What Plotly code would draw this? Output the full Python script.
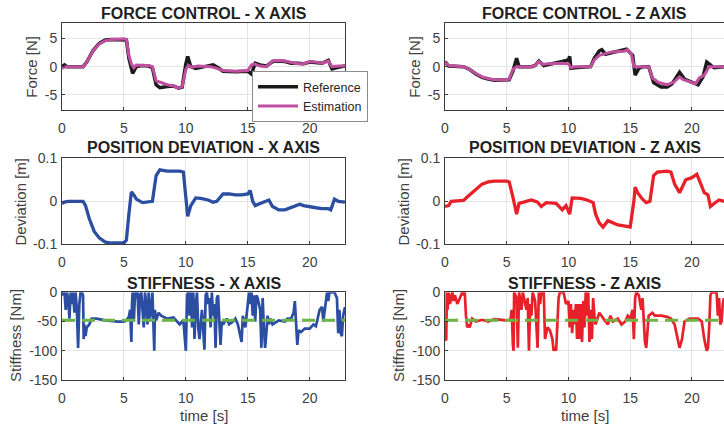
import plotly.graph_objects as go

# ---------------- data ----------------
# Force control, X axis
fx_ref_t = [0, 0.2, 0.4, 1.7, 2.0, 2.5, 3.0, 3.5, 4.0, 5.0, 5.2, 5.4, 5.7, 6.0, 6.5, 7.0, 7.3, 7.6, 7.9,
            8.5, 9.0, 9.4, 9.7, 10.0, 10.15, 10.4, 10.8, 11.5, 12.2, 12.6, 13.0, 14.0, 15.0, 15.3, 15.6,
            16.0, 16.5, 17.0, 17.5, 18.0, 18.5, 19.0, 19.5, 20.0, 20.5, 21.0, 21.5, 21.8, 22.3, 22.85]
fx_ref_v = [0, 0.3, 0, 0, 0.8, 2.8, 4.1, 4.7, 4.8, 4.8, 4.7, 1.5, -1.2, 0.0, 0.2, 0.1, -0.2, -3.2, -3.7,
            -3.5, -3.4, -3.8, -3.6, 0.5, 1.8, 0.0, -0.3, 0.0, 0.3, -0.2, -0.8, -0.9, -0.8, -1.3, 0.6,
            0.3, 0.1, 0.9, 1.0, 0.9, 0.6, 0.6, 0.5, 0.8, 0.7, 0.6, 1.1, -0.4, -0.1, 0.1]
fx_est_t = [0, 0.3, 1.7, 2.0, 2.5, 3.0, 3.5, 4.0, 5.0, 5.2, 5.4, 5.6, 5.8, 6.0, 6.5, 7.0, 7.3, 7.6, 8.0,
            8.5, 9.0, 9.4, 9.7, 10.0, 10.2, 10.5, 11.0, 12.0, 12.5, 13.0, 14.0, 15.0, 15.3, 15.5, 16.0,
            16.5, 17.0, 17.5, 18.0, 18.5, 19.0, 19.5, 20.0, 20.5, 21.0, 21.5, 21.8, 22.3, 22.85]
fx_est_v = [-0.3, 0, 0, 0.8, 2.8, 4.0, 4.6, 4.8, 4.9, 4.8, 2.0, 0.5, -0.2, 0.3, 0.2, 0.2, 0.0, -2.5, -2.8,
            -3.2, -3.4, -3.8, -3.5, -0.5, 0.2, -0.1, 0.1, 0.0, -0.3, -0.7, -0.8, -0.7, 0.3, 0.5, 0.1,
            0.0, 1.0, 1.1, 1.0, 0.7, 0.5, 0.5, 0.9, 0.8, 0.6, 1.0, 0.0, 0.1, 0.1]

# Force control, Z axis
fz_ref_t = [0, 0.3, 1.5, 2.0, 2.5, 3.0, 3.5, 4.0, 5.2, 5.5, 5.8, 6.0, 7.0, 7.3, 7.6, 8.0, 9.5, 10.0,
            10.1, 10.2, 10.5, 11.8, 12.1, 12.5, 12.7, 13.0, 14.7, 15.2, 15.4, 15.7, 16.0, 16.5, 16.9,
            17.5, 18.0, 18.4, 19.0, 19.4, 20.5, 20.9, 21.2, 21.5, 21.8, 22.6]
fz_ref_v = [0.9, 0.1, 0, -0.5, -1.3, -1.9, -2.2, -2.4, -2.3, -0.8, 1.5, 0.0, 0.0, 0.2, 1.0, 0.2, 0.9, 1.2,
            1.8, -0.3, -0.2, 0.0, 1.5, 2.8, 3.0, 2.2, 3.1, 2.0, -1.5, -0.3, 0.0, 0.0, -2.8,
            -3.6, -3.6, -3.0, -1.0, -2.2, -3.2, -1.8, 0.8, 0.3, -0.2, 0.0]
fz_est_t = [0, 0.3, 1.5, 2.0, 2.5, 3.0, 3.5, 4.0, 5.0, 5.2, 5.5, 5.8, 7.0, 7.3, 7.6, 7.9, 8.3, 9.0,
            9.5, 10.0, 10.2, 10.5, 11.8, 12.1, 12.5, 13.0, 13.5, 14.5, 14.8, 15.1, 15.3, 16.5, 16.8,
            17.3, 18.0, 18.5, 19.0, 19.3, 19.8, 20.3, 20.6, 21.0, 21.4, 22.6]
fz_est_v = [0.8, 0.2, 0, -0.5, -1.2, -1.8, -2.1, -2.3, -2.3, -2.2, -0.5, 0.0, 0.0, 0.2, 0.9, 0.4, 0.5, 0.6,
            0.6, 0.5, -0.2, 0.0, 0.0, 1.2, 2.0, 2.3, 2.6, 2.7, 3.0, 2.2, 0.0, 0.0, -2.0,
            -2.8, -3.2, -2.8, -1.8, -2.3, -2.7, -3.0, -2.0, -1.5, 0.0, 0.0]

# Position deviation, X axis
px_t = [0, 0.2, 0.5, 1.7, 1.9, 2.2, 2.6, 3.0, 3.5, 4.0, 5.0, 5.2, 5.4, 5.6, 5.8, 6.0, 6.5, 7.0, 7.3,
        7.6, 7.9, 8.5, 9.5, 9.8, 10.0, 10.15, 10.4, 10.8, 11.2, 11.8, 12.2, 12.5, 13.0, 13.5, 14.0,
        14.5, 15.0, 15.2, 15.4, 15.6, 16.0, 16.5, 16.7, 17.0, 17.5, 18.0, 18.5, 19.0, 19.2, 19.5,
        20.0, 20.5, 21.0, 21.5, 21.7, 22.0, 22.3, 22.85]
px_v = [-0.005, -0.002, 0.0, 0.0, -0.01, -0.04, -0.07, -0.085, -0.095, -0.097, -0.097, -0.09, -0.03,
        0.022, 0.015, 0.005, -0.003, -0.002, 0.0, 0.06, 0.073, 0.07, 0.07, 0.068, 0.01, -0.035, -0.01,
        0.008, 0.007, 0.003, -0.002, 0.0, 0.017, 0.017, 0.015, 0.015, 0.017, 0.025, 0.0, -0.01, -0.005,
        0.0, 0.003, -0.012, -0.02, -0.02, -0.015, -0.01, -0.007, -0.01, -0.013, -0.015, -0.017, -0.017,
        -0.02, 0.005, 0.0, -0.002]

# Position deviation, Z axis
pz_t = [0, 0.3, 0.5, 1.5, 1.8, 2.2, 2.5, 3.0, 3.5, 4.0, 5.0, 5.2, 5.5, 5.8, 6.0, 6.5, 7.0, 7.5, 7.8,
        8.2, 9.0, 9.5, 9.8, 10.1, 10.3, 11.0, 11.5, 12.0, 12.2, 12.5, 12.8, 13.2, 13.6, 14.0, 14.5,
        15.0, 15.3, 15.4, 15.6, 16.0, 16.3, 16.6, 16.9, 17.2, 18.0, 18.3, 18.6, 19.0, 19.5, 20.0,
        20.4, 20.7, 21.0, 21.3, 21.5, 21.8, 22.2, 22.6]
pz_v = [-0.012, -0.01, 0.0, 0.002, 0.01, 0.02, 0.03, 0.04, 0.045, 0.047, 0.047, 0.045, 0.01, -0.03,
        -0.005, 0.0, 0.003, -0.002, -0.012, -0.003, -0.005, -0.02, -0.01, -0.03, 0.008, 0.007, 0.003,
        -0.003, -0.03, -0.05, -0.06, -0.045, -0.05, -0.055, -0.057, -0.06, 0.0, 0.033, 0.02, 0.005,
        -0.003, 0.0, 0.06, 0.068, 0.07, 0.068, 0.04, 0.02, 0.05, 0.055, 0.063, 0.04, 0.02, 0.015,
        -0.012, -0.005, 0.003, 0.0]

# Stiffness, X axis
sx_t = [0.0, 0.1, 0.2, 0.3, 0.4, 0.5, 0.6, 0.7, 0.8, 0.9, 1.0, 1.1, 1.2, 1.3, 1.4, 1.5, 1.6, 1.7,
        1.75, 1.8, 1.9, 2.0, 2.2, 2.4, 2.8, 3.5, 4.5, 5.0, 5.2, 5.4, 5.5, 5.6, 5.65, 5.7, 5.8, 5.9,
        6.0, 6.1, 6.2, 6.3, 6.4, 6.6, 6.7, 6.8, 6.9, 7.0, 7.1, 7.2, 7.3, 7.4, 7.45, 7.5, 7.6, 7.8,
        8.0, 8.5, 9.0, 9.3, 9.5, 9.7, 9.8, 10.0, 10.1, 10.2, 10.3, 10.4, 10.5, 10.6, 10.7, 10.8,
        10.9, 11.0, 11.1, 11.2, 11.3, 11.5, 11.6, 11.7, 11.8, 11.9, 12.0, 12.1, 12.2, 12.3, 12.4,
        12.5, 12.6, 12.8, 12.9, 13.0, 13.3, 13.5, 13.8, 14.0, 14.2, 14.5, 14.6, 14.8, 15.0, 15.1,
        15.2, 15.3, 15.4, 15.5, 15.6, 15.7, 15.8, 16.0, 16.1, 16.2, 16.3, 16.4, 16.5, 16.6, 16.7,
        16.8, 17.0, 17.5, 18.0, 18.2, 18.5, 18.7, 18.8, 18.9, 19.0, 19.1, 19.3, 19.6, 20.0, 20.3,
        20.5, 20.8, 21.0, 21.1, 21.2, 21.3, 21.4, 21.5, 21.6, 22.0, 22.2, 22.3, 22.4, 22.5, 22.6,
        22.7, 22.85]
sx_v = [0, -5, 0, -30, 0, -10, -45, 0, -20, 0, -35, 0, -30, -95, -20, 0, 0, -5,
        -80, -55, -75, -60, -55, -45, -45, -48, -50, -50, -48, -42, -30, -85, -20, 0, -50, 0,
        -10, 0, -55, -5, 0, -60, 0, -20, -55, 0, -45, -30, 0, -60, -100, -30, -48, -35,
        -40, -45, -43, -50, -55, -50, -48, -100, -5, 0, -40, 0, -60, 0, -80, -20,
        0, -60, -80, -55, -30, -98, -5, 0, -20, -10, -60, 0, -40, -20, -95,
        -10, -5, -90, -50, -55, -45, -55, -50, -45, -55, -85, -40, -60, -10, 0,
        -20, 0, -40, -5, -50, -5, -10, -30, -95, -10, -60, -95, -70, -40, -55,
        -45, -55, -48, -50, -45, -45, -35, -15, -45, -90, -65, -68, -62, -62, -55,
        -58, -30, -25, -50, -35, -20, 0, -15, 0, 0, -10, -70, -30, -70, -75,
        -40, -25]

# Stiffness, Z axis
sz_t = [0.0, 0.1, 0.15, 0.2, 0.3, 0.4, 0.5, 0.6, 0.7, 0.8, 1.0, 1.2, 1.4, 1.5, 1.6, 1.7, 1.8, 1.9,
        2.0, 2.2, 2.5, 3.0, 3.5, 4.0, 4.5, 5.0, 5.3, 5.4, 5.5, 5.55, 5.6, 5.8, 5.9, 6.0, 6.2, 6.3,
        6.6, 6.7, 6.8, 6.9, 7.0, 7.1, 7.3, 7.4, 7.5, 7.6, 7.7, 7.8, 8.0, 8.1, 8.3, 8.5, 8.7, 8.8,
        8.9, 9.0, 9.1, 9.2, 9.3, 9.6, 9.8, 10.0, 10.1, 10.2, 10.3, 10.4, 10.5, 10.6, 10.7, 10.8,
        10.9, 11.0, 11.1, 11.2, 11.3, 11.4, 11.5, 11.6, 11.7, 11.8, 11.9, 12.0, 12.1, 12.2, 12.5,
        12.8, 13.0, 13.2, 13.4, 13.6, 14.0, 14.3, 14.6, 14.8, 15.0, 15.2, 15.3, 15.4, 15.5, 15.7,
        15.9, 16.0, 16.1, 16.2, 16.3, 16.4, 16.5, 16.8, 17.0, 17.5, 18.0, 18.3, 18.6, 18.8, 19.0,
        19.2, 19.4, 19.8, 20.2, 20.5, 20.8, 21.0, 21.2, 21.3, 21.4, 21.5, 21.6, 22.0, 22.1, 22.2,
        22.3, 22.4, 22.5, 22.6]
sz_v = [-80, -82, 0, -30, 0, -20, -10, 0, -15, -5, -20, -10, 0, -5, 0, -40, -60, -55,
        -60, -45, -50, -47, -50, -46, -47, -48, -47, -30, -90, -100, 0, -10, -95, 0, -30, 0,
        -30, -10, -100, -20, -40, 0, -15, -60, -95, 0, -20, 0, 0, -80, -60, -65, -80, -100,
        -95, -100, -60, -10, 0, 0, -20, -15, -60, -20, -70, -30, -55, -20, -80, -20,
        -80, -20, -85, -15, -60, 0, -40, 0, -85, -30, -80, -10, -40, -55, -35,
        -45, -50, -55, -40, -50, -45, -55, -50, -40, -45, -30, -80, -10, 0, -5,
        -30, -10, -60, -85, -95, -60, -40, -35, -40, -40, -42, -45, -55, -75, -95,
        -80, -50, -45, -45, -45, -50, -80, -100, -95, -60, -5, 0, 0, -40, -10,
        -55, -50, -20, -10]

stiffness_ref = -48
x_ticks = [0, 5, 10, 15, 20]
force_ticks = [-5, 0, 5]
dev_ticks = [-0.1, 0, 0.1]
stiff_ticks = [-150, -100, -50, 0]

# ---------------- styling ----------------
FONT = "Liberation Sans, Arial, sans-serif"
BLUE = "#2b4ea3"
RED = "#e8202a"
MAGENTA = "#c0509f"
BLACK = "#1b1b1b"
GREEN = "#6cb545"
W, H = 724, 427

fig = go.Figure()

# panel geometry in pixels -> paper fractions
xl = [62 / W, 345 / W]
xr = [445 / W, 1.0]
yt = [1 - 110 / H, 1 - 23.3 / H]
ym = [1 - 244.3 / H, 1 - 158.3 / H]
yb = [1 - 380 / H, 1 - 292.3 / H]

panels = [
    ("x", "y", xl, yt, [0, 22.85], [-7.65, 7.65], force_ticks),
    ("x2", "y2", xr, yt, [0, 22.6], [-7.65, 7.65], force_ticks),
    ("x3", "y3", xl, ym, [0, 22.85], [-0.1, 0.1], dev_ticks),
    ("x4", "y4", xr, ym, [0, 22.6], [-0.1, 0.1], dev_ticks),
    ("x5", "y5", xl, yb, [0, 22.85], [-150, 0], stiff_ticks),
    ("x6", "y6", xr, yb, [0, 22.6], [-150, 0], stiff_ticks),
]

layout_axes = {}
for i, (xa, ya, xd, yd, xrng, yrng, yticks) in enumerate(panels):
    xkey = "xaxis" if xa == "x" else "xaxis" + xa[1:]
    ykey = "yaxis" if ya == "y" else "yaxis" + ya[1:]
    right_col = (i % 2 == 1)
    layout_axes[xkey] = dict(
        domain=xd, anchor=ya, range=xrng, tickvals=x_ticks, automargin=False,
        showgrid=True, gridcolor="#e5e5e5", gridwidth=1, zeroline=False,
        showline=True, linecolor="#3a3a3a", linewidth=1, mirror=True,
        ticks="inside", ticklen=3, tickcolor="#3a3a3a", ticklabelstandoff=5,
        tickfont=dict(family=FONT, size=14, color="#404040"),
    )
    layout_axes[ykey] = dict(
        domain=yd, anchor=xa, range=yrng, tickvals=yticks, automargin=False,
        ticktext=[("%g" % v) for v in yticks],
        showgrid=True, gridcolor="#e5e5e5", gridwidth=1, zeroline=False,
        showline=True, linecolor="#3a3a3a", linewidth=1, mirror=not right_col,
        ticks="inside", ticklen=3, tickcolor="#3a3a3a", ticklabelstandoff=1,
        tickfont=dict(family=FONT, size=14, color="#404040"),
    )

# force control traces
fig.add_trace(go.Scatter(x=fx_ref_t, y=fx_ref_v, mode="lines", name="Reference",
                         line=dict(color=BLACK, width=3.5), xaxis="x", yaxis="y"))
fig.add_trace(go.Scatter(x=fx_est_t, y=fx_est_v, mode="lines", name="Estimation",
                         line=dict(color=MAGENTA, width=3), xaxis="x", yaxis="y"))
fig.add_trace(go.Scatter(x=fz_ref_t, y=fz_ref_v, mode="lines", showlegend=False,
                         line=dict(color=BLACK, width=3.5), xaxis="x2", yaxis="y2"))
fig.add_trace(go.Scatter(x=fz_est_t, y=fz_est_v, mode="lines", showlegend=False,
                         line=dict(color=MAGENTA, width=3), xaxis="x2", yaxis="y2"))

# position deviation traces
fig.add_trace(go.Scatter(x=px_t, y=px_v, mode="lines", showlegend=False,
                         line=dict(color=BLUE, width=3.3), xaxis="x3", yaxis="y3"))
fig.add_trace(go.Scatter(x=pz_t, y=pz_v, mode="lines", showlegend=False,
                         line=dict(color=RED, width=3.3), xaxis="x4", yaxis="y4"))

# stiffness traces with nominal stiffness reference
fig.add_trace(go.Scatter(x=sx_t, y=sx_v, mode="lines", showlegend=False,
                         line=dict(color=BLUE, width=2.7), xaxis="x5", yaxis="y5"))
fig.add_trace(go.Scatter(x=[0, 22.85], y=[stiffness_ref, stiffness_ref], mode="lines",
                         showlegend=False, line=dict(color=GREEN, width=3, dash="13px,7px"),
                         xaxis="x5", yaxis="y5"))
fig.add_trace(go.Scatter(x=sz_t, y=sz_v, mode="lines", showlegend=False,
                         line=dict(color=RED, width=2.7), xaxis="x6", yaxis="y6"))
fig.add_trace(go.Scatter(x=[0, 22.6], y=[stiffness_ref, stiffness_ref], mode="lines",
                         showlegend=False, line=dict(color=GREEN, width=3, dash="13px,7px"),
                         xaxis="x6", yaxis="y6"))

# titles and axis labels
titles = [
    ("FORCE CONTROL - X AXIS", xl, 13),
    ("FORCE CONTROL - Z AXIS", [445 / W, 724 / W], 13),
    ("POSITION DEVIATION - X AXIS", xl, 148),
    ("POSITION DEVIATION - Z AXIS", [445 / W, 724 / W], 148),
    ("STIFFNESS - X AXIS", xl, 283),
    ("STIFFNESS - Z AXIS", [445 / W, 724 / W], 283),
]
annotations = []
for text, xd, ypix in titles:
    annotations.append(dict(text="<b>%s</b>" % text, x=(xd[0] + xd[1]) / 2, y=1 - ypix / H,
                            xref="paper", yref="paper", xanchor="center", yanchor="middle",
                            showarrow=False, font=dict(family=FONT, size=16, color="#1f1f1f")))

ylabels = [
    ("Force [N]", 32, 66.7), ("Force [N]", 415, 66.7),
    ("Deviation [m]", 20, 201.5), ("Deviation [m]", 403, 201.5),
    ("Stiffness [Nm]", 15, 336), ("Stiffness [Nm]", 398, 336),
]
for text, xpix, ypix in ylabels:
    annotations.append(dict(text=text, x=xpix / W, y=1 - ypix / H, xref="paper", yref="paper",
                            xanchor="center", yanchor="middle", textangle=-90, showarrow=False,
                            font=dict(family=FONT, size=15, color="#404040")))
for xc in ((62 + 345) / 2, (445 + 724) / 2):
    annotations.append(dict(text="time [s]", x=xc / W, y=1 - 415 / H, xref="paper", yref="paper",
                            xanchor="center", yanchor="middle", showarrow=False,
                            font=dict(family=FONT, size=15, color="#404040")))

fig.update_layout(
    width=W, height=H,
    margin=dict(l=0, r=0, t=0, b=0, autoexpand=False),
    paper_bgcolor="white", plot_bgcolor="white",
    font=dict(family=FONT, color="#404040"),
    annotations=annotations,
    legend=dict(x=252 / W, y=1 - 71 / H, xanchor="left", yanchor="top",
                bgcolor="white", bordercolor="#8c8c8c", borderwidth=1,
                font=dict(family=FONT, size=12.5, color="#262626"),
                tracegroupgap=0, itemwidth=40),
    **layout_axes,
)

fig.write_html("out.html")
